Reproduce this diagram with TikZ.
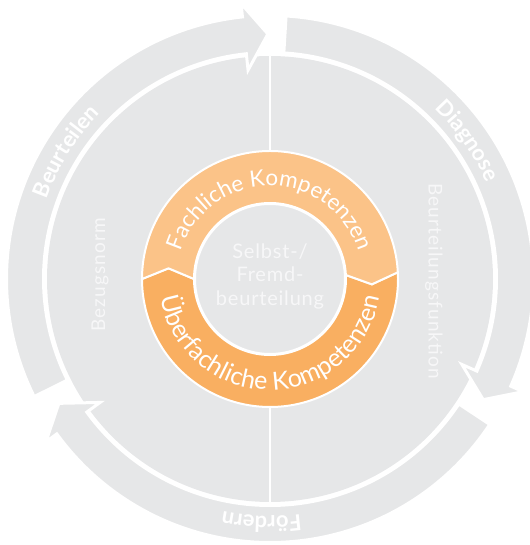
\documentclass[tikz,border=0pt]{standalone}
\usepackage{fontspec}
\setmainfont{Lato}[BoldFont=Lato Bold]
\usetikzlibrary{decorations.text}

\definecolor{cyclegray}{RGB}{230, 231, 232}
\definecolor{fachorange}{RGB}{251, 195, 136}
\definecolor{ueberorange}{RGB}{249, 175, 97}
\definecolor{softwhite}{RGB}{247, 247, 248}

\newcommand{\ringfont}{\fontsize{22.5}{24}\selectfont\color{white}}
\newcommand{\bandfont}{\fontsize{22}{24}\selectfont\bfseries\color{white}}

\begin{document}
\begin{tikzpicture}[x=1pt, y=1pt,
  cyclearrow/.style={fill=cyclegray, draw=white, line width=3pt},
  ringpart/.style={draw=white, line width=2pt},
  sidelabel/.style={text=softwhite, font=\fontsize{19}{22}\selectfont\addfontfeatures{LetterSpace=6}}]
  \useasboundingbox (-270,-266) rectangle (259,279);

  % grey disc with its vertical divider
  \fill[cyclegray] (0,0) circle[radius=223];
  \draw[white, line width=1.5pt] (0,223) -- (0,-223);

  % outer cycle: three arrows, tail -> tip clockwise
  \foreach \tail/\tip in {206.5/90.5, 86.5/-29.5, -33.5/-149.5} {
    \pgfmathsetmacro{\base}{\tip+5.5}
    \path[cyclearrow] (\tail:263.5) arc[start angle=\tail, end angle=\base, radius=263.5]
      -- (\base:277) -- (\tip:245) -- (\base:210) -- (\base:226.5)
      arc[start angle=\base, end angle=\tail, radius=226.5] -- cycle;
  }

  % orange ring, two arrow-shaped halves
  \path[ringpart, fill=ueberorange] (180:128) -- (174:102) -- (180:76)
    arc[start angle=180, end angle=363, radius=76] -- (357:102) -- (3:128)
    arc[start angle=3, end angle=-180, radius=128] -- cycle;
  \path[ringpart, fill=fachorange] (180:128) -- (174:102) -- (180:76)
    arc[start angle=180, end angle=3, radius=76] -- (-3:102) -- (3:128)
    arc[start angle=3, end angle=180, radius=128] -- cycle;
  \fill[cyclegray, draw=white, line width=2pt] (0,0) circle[radius=75];

  % labels
  \node[text=softwhite, align=center, font=\fontsize{20}{23.5}\selectfont\addfontfeatures{LetterSpace=4}] (centre) at (0,3)
    {Selbst-/\\Fremd-\\beurteilung};
  \node[sidelabel, rotate=90] (norm) at (-170,4) {Bezugsnorm};
  \node[sidelabel, rotate=-90] (funktion) at (164,-2) {Beurteilungsfunktion};

  \path[decorate, decoration={text along path, text align=center,
      text={|\ringfont|Fachliche Kompetenzen}}]
    (175:93) arc[start angle=175, end angle=5, radius=93];
  \path[decorate, decoration={text along path, text align=center,
      text={|\ringfont\fontsize{25}{26}\selectfont|Überfachliche Kompetenzen}}]
    (185:111) arc[start angle=185, end angle=355, radius=111];

  \path[decorate, decoration={text along path, text align=center,
      text={|\bandfont|Beurteilen}}]
    (198:237) arc[start angle=198, end angle=98, radius=237];
  \path[decorate, decoration={text along path, text align=center,
      text={|\bandfont|Diagnose}}]
    (85:237) arc[start angle=85, end angle=-15, radius=237];
  \path[decorate, decoration={text along path, text align=center,
      text={|\bandfont|Fördern}}]
    (-42:237) arc[start angle=-42, end angle=-142, radius=237];
\end{tikzpicture}
\end{document}
